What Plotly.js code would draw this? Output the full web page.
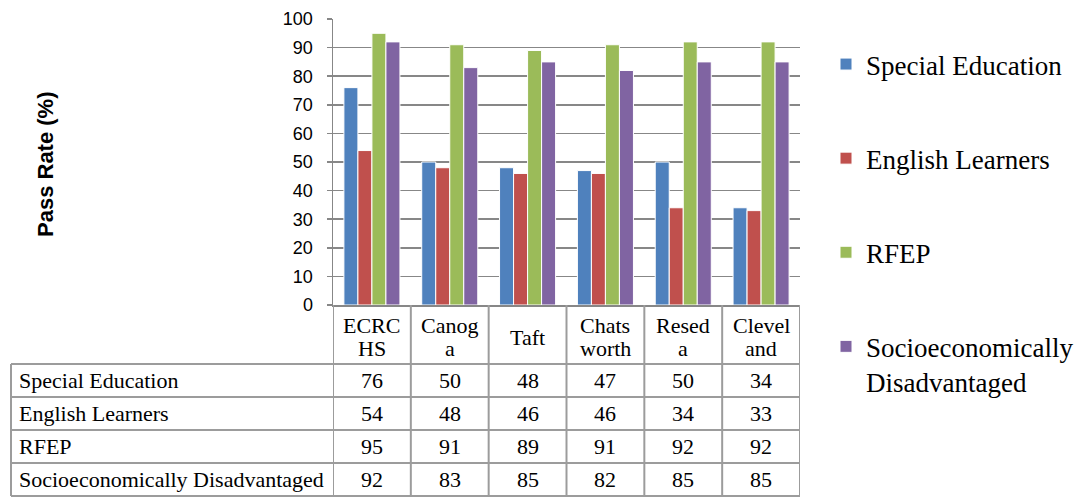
<!DOCTYPE html>
<html><head><meta charset="utf-8">
<script src="https://cdn.plot.ly/plotly-3.0.1.min.js"></script>
<style>html,body{margin:0;padding:0;background:#fff;}#chart{width:1078px;height:497px;}</style>
</head><body><div id="chart"></div>
<script>
// ---- data ----
const categories = ["ECRC HS", "Canoga", "Taft", "Chatsworth", "Reseda", "Cleveland"];
const categoryLabels = ["ECRC<br>HS", "Canog<br>a", "Taft", "Chats<br>worth", "Resed<br>a", "Clevel<br>and"];
const seriesNames = ["Special Education", "English Learners", "RFEP", "Socioeconomically Disadvantaged"];
const legendNames = ["Special Education", "English Learners", "RFEP", "Socioeconomically<br>Disadvantaged"];
const specialEducation = [76, 50, 48, 47, 50, 34];
const englishLearners = [54, 48, 46, 46, 34, 33];
const rfep = [95, 91, 89, 91, 92, 92];
const socioDisadvantaged = [92, 83, 85, 82, 85, 85];
const yTickValues = [0, 10, 20, 30, 40, 50, 60, 70, 80, 90, 100];
const yAxisTitle = "Pass Rate (%)";

// ---- styling ----
const seriesValues = [specialEducation, englishLearners, rfep, socioDisadvantaged];
const colors = ["#4F81BD", "#C0504D", "#9BBB59", "#8064A2"];
const W = 1078, H = 497;
const M = {l: 333, r: 278, t: 19, b: 192, autoexpand: false};
const plotH = H - M.t - M.b, plotW = W - M.l - M.r;
const py = p => (H - M.b - p) / plotH;       // pixel y -> paper y
const px = p => (p - M.l) / plotW;           // pixel x -> paper x
const gridColor = "#878787";
const tableColor = "#9c9c9c";
const serif = "Liberation Serif, DejaVu Serif, serif";
const sans = "Liberation Sans, Arial, sans-serif";
const tableFont = {family: serif, size: 22, color: "#000"};

const traces = seriesValues.map((vals, i) => ({
  type: "bar",
  name: legendNames[i],
  x: categories,
  y: vals,
  legendgroup: "g" + i,
  marker: {color: colors[i], line: {color: "#ffffff", width: 1}},
  hoverinfo: "skip"
}));

// table geometry (pixels)
const rowLines = [364, 397, 430, 463, 496];
const tableLeft = 11;

const shapes = [];
const annotations = [];
const lineStyle = {color: tableColor, width: 2};
rowLines.forEach(r => {
  shapes.push({type: "line", xref: "paper", yref: "paper", x0: px(tableLeft), x1: 1, y0: py(r), y1: py(r), line: lineStyle});
});
shapes.push({type: "line", xref: "paper", yref: "paper", x0: px(tableLeft), x1: px(tableLeft), y0: py(rowLines[0]), y1: py(rowLines[rowLines.length - 1]), line: lineStyle});
for (let i = 0; i <= categories.length; i++) {
  shapes.push({type: "line", xref: "x", yref: "paper", x0: i - 0.5, x1: i - 0.5, y0: 0, y1: py(rowLines[rowLines.length - 1]), line: lineStyle});
}
// header cells: each line placed separately for tighter line spacing
categoryLabels.forEach((lbl, i) => {
  const lines = lbl.split("<br>");
  const ys = lines.length === 1 ? [337] : [325, 349];
  lines.forEach((ln, k) => {
    annotations.push({xref: "x", yref: "paper", x: i, y: py(ys[k]), text: ln, showarrow: false,
      font: tableFont, xanchor: "center", yanchor: "middle", align: "center"});
  });
});
seriesNames.forEach((s, r) => {
  const yc = py((rowLines[r] + rowLines[r + 1]) / 2);
  annotations.push({xref: "paper", yref: "paper", x: px(17), y: yc, text: s, showarrow: false,
    font: tableFont, xanchor: "left", yanchor: "middle"});
  seriesValues[r].forEach((v, i) => {
    annotations.push({xref: "x", yref: "paper", x: i, y: yc, text: String(v), showarrow: false,
      font: tableFont, xanchor: "center", yanchor: "middle"});
  });
});
annotations.push({xref: "paper", yref: "paper", x: px(45), y: py(164), text: "<b>" + yAxisTitle + "</b>", textangle: -90,
  showarrow: false, font: {family: sans, size: 22, color: "#000"}, xanchor: "center", yanchor: "middle"});

const layout = {
  width: W, height: H,
  margin: M,
  paper_bgcolor: "#fff", plot_bgcolor: "#fff",
  barmode: "group", bargap: 0.28, bargroupgap: 0,
  showlegend: true,
  legend: {x: px(826), y: py(40), xanchor: "left", yanchor: "top", orientation: "v",
    font: {family: serif, size: 27, color: "#000"}, tracegroupgap: 56, valign: "top",
    maxheight: 470, bgcolor: "rgba(0,0,0,0)"},
  xaxis: {type: "category", range: [-0.5, categories.length - 0.5], showticklabels: false, ticks: "",
    showline: true, linecolor: gridColor, linewidth: 1.5, showgrid: false, zeroline: false, fixedrange: true},
  yaxis: {range: [0, 100], tickvals: yTickValues, ticks: "outside", ticklen: 5, tickcolor: gridColor, tickwidth: 1.5,
    showline: true, linecolor: gridColor, linewidth: 1.5, showgrid: true, gridcolor: gridColor, gridwidth: 1.5,
    zeroline: false, tickfont: {family: sans, size: 18, color: "#000"}, ticklabelstandoff: 10, fixedrange: true},
  shapes: shapes,
  annotations: annotations,
  hovermode: false
};

Plotly.newPlot("chart", traces, layout, {displayModeBar: false, staticPlot: true});
</script>
</body></html>
